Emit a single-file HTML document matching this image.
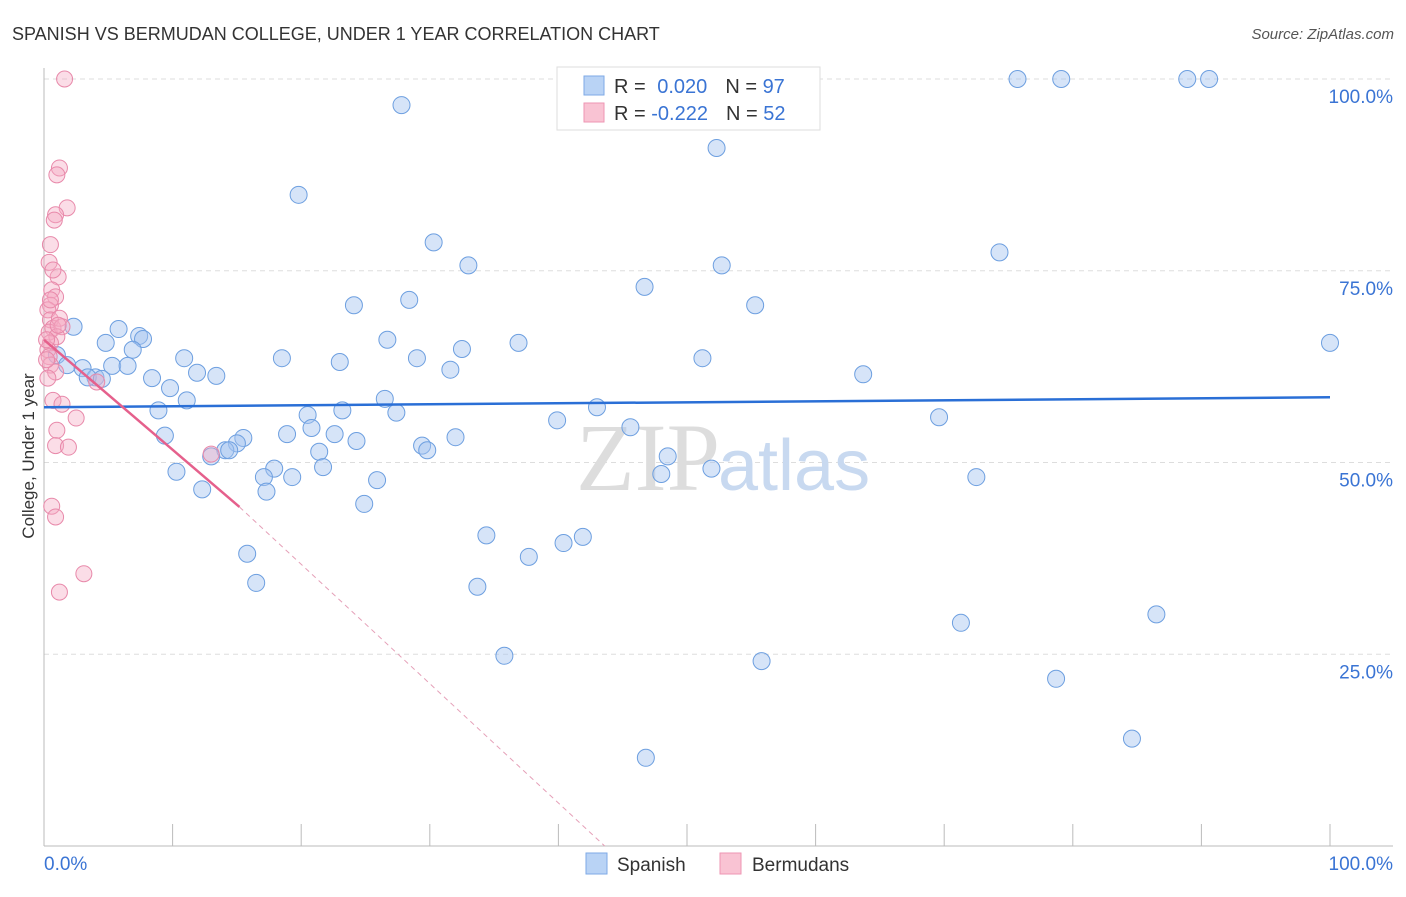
<!DOCTYPE html>
<html><head><meta charset="utf-8"><style>
body{margin:0;background:#fff;font-family:"Liberation Sans",sans-serif;}
svg text{font-family:"Liberation Sans",sans-serif;}
</style></head><body>
<svg width="1406" height="892" viewBox="0 0 1406 892">
<text x="12" y="40" font-size="18" fill="#333">SPANISH VS BERMUDAN COLLEGE, UNDER 1 YEAR CORRELATION CHART</text>
<text x="1394" y="39" font-size="15" fill="#555" font-style="italic" text-anchor="end">Source: ZipAtlas.com</text>
<g id="grid"></g>
<text x="720" y="490" font-size="96" fill="#ddd" text-anchor="end" font-family="Liberation Serif" style="font-family:'Liberation Serif',serif">ZIP</text>
<text x="718" y="490" font-size="72" fill="#c8d9f0">atlas</text>
<g id="axes"></g>
<g id="pts"></g>
<g id="trend"></g>
<text x="34" y="456" font-size="17" fill="#333" text-anchor="middle" transform="rotate(-90 34 456)">College, Under 1 year</text>
<g>
<rect x="557" y="67" width="263" height="63" fill="#fff" stroke="#ddd"/>
<rect x="584" y="76" width="20" height="19" fill="#b9d3f5" stroke="#7eaae6"/>
<rect x="584" y="103" width="20" height="19" fill="#f9c3d3" stroke="#ee96b3"/>
<text x="614" y="93" font-size="20" fill="#333">R = <tspan fill="#3a74d4" dx="6">0.020</tspan><tspan fill="#333" dx="18">N = </tspan><tspan fill="#3a74d4">97</tspan></text>
<text x="614" y="120" font-size="20" fill="#333">R = <tspan fill="#3a74d4">-0.222</tspan><tspan fill="#333" dx="18">N = </tspan><tspan fill="#3a74d4">52</tspan></text>
</g>
<g>
<rect x="586" y="853" width="21" height="21" fill="#b9d3f5" stroke="#7eaae6"/>
<text x="617" y="871" font-size="19" fill="#333">Spanish</text>
<rect x="720" y="853" width="21" height="21" fill="#f9c3d3" stroke="#ee96b3"/>
<text x="752" y="871" font-size="19" fill="#333">Bermudans</text>
</g>
</svg>
<script>
const spanX=[75.7,79.1,88.9,90.6,27.8,52.3,19.8,30.3,33.0,52.7,74.3,46.7,28.4,24.1,55.3,2.3,5.8,7.4,7.7,4.8,6.9,26.7,36.9,32.5,100,1.0,10.9,18.5,23.0,29.0,51.2,1.8,3.0,5.3,6.5,11.9,13.4,31.6,63.7,4.0,3.4,8.4,9.8,11.1,26.5,8.9,20.5,23.2,27.4,43.0,39.9,69.6,45.6,20.8,18.9,22.6,15.5,15.0,24.3,9.4,32.0,29.4,29.8,14.1,14.4,13.0,21.4,48.5,10.3,21.7,17.9,17.1,19.3,48.0,51.9,72.5,25.9,17.3,12.3,24.9,15.8,34.4,37.7,40.4,41.9,16.5,33.7,86.5,71.3,35.8,55.8,78.7,84.6,46.8,4.5];
const spanY=[100,100,100,100,96.6,91.0,84.9,78.7,75.7,75.7,77.4,72.9,71.2,70.5,70.5,67.7,67.4,66.5,66.1,65.6,64.7,66.0,65.6,64.8,65.6,64.0,63.6,63.6,63.1,63.6,63.6,62.7,62.3,62.6,62.6,61.7,61.3,62.1,61.5,61.1,61.1,61.0,59.7,58.1,58.3,56.8,56.2,56.8,56.5,57.2,55.5,55.9,54.6,54.5,53.7,53.7,53.2,52.5,52.8,53.5,53.3,52.2,51.6,51.6,51.6,50.8,51.4,50.8,48.8,49.4,49.2,48.1,48.1,48.5,49.2,48.1,47.7,46.2,46.5,44.6,38.1,40.5,37.7,39.5,40.3,34.3,33.8,30.2,29.1,24.8,24.1,21.8,14.0,11.5,60.9];
const bermX=[1.6,1.2,1.0,1.8,0.9,0.8,0.5,0.4,1.1,0.7,0.6,0.9,0.5,0.3,0.5,0.7,0.4,1.2,1.4,1.0,0.5,0.3,0.4,0.5,0.9,0.3,4.1,0.7,1.4,2.5,1.0,0.9,1.9,13.0,0.6,0.9,3.1,1.2,0.2,0.2,1.1,0.5];
const bermY=[100,88.4,87.5,83.2,82.3,81.6,78.4,76.1,74.2,75.1,72.5,71.6,70.5,69.9,68.6,67.5,67.0,68.8,67.7,66.4,65.6,64.7,63.8,62.7,61.8,61.0,60.5,58.1,57.6,55.8,54.2,52.2,52.0,51.1,44.3,42.9,35.5,33.1,63.4,66.0,67.9,71.2];
const yTicks=[100,75,50,25];
const yTickLabels=["100.0%","75.0%","50.0%","25.0%"];
const xTicks=[10,20,30,40,50,60,70,80,90,100];
const spanTrend=[57.2,58.5];
const bermTrend=[66.0,44.2,15.2,43.6];
const X=v=>44+v*12.86, Y=v=>846-v*7.67;
const NS="http://www.w3.org/2000/svg";
function mk(p,t,a){const e=document.createElementNS(NS,t);for(const k in a)e.setAttribute(k,a[k]);p.appendChild(e);return e;}
const grid=document.getElementById('grid'),axes=document.getElementById('axes'),pts=document.getElementById('pts'),tr=document.getElementById('trend');
yTicks.forEach((t,i)=>{
 const l=mk(grid,'line',{x1:44,x2:1393,y1:Y(t),y2:Y(t),stroke:'#ddd','stroke-dasharray':'5,4'});
 
 
 const tx=mk(grid,'text',{x:1393,y:Y(t)+24,'font-size':19,fill:'#3a74d4','text-anchor':'end'});
 tx.textContent=yTickLabels[i];
 
 
});
let a=mk(axes,'line',{x1:44,x2:44,y1:68,y2:846,stroke:'#bbb'});


a=mk(axes,'line',{x1:44,x2:1393,y1:846,y2:846,stroke:'#bbb'});


xTicks.forEach(t=>{
 const l=mk(axes,'line',{x1:X(t),x2:X(t),y1:824,y2:846,stroke:'#bbb'});
 
 
});
let t0=mk(axes,'text',{x:44,y:870,'font-size':19,fill:'#3a74d4'});t0.textContent='0.0%';


let t1=mk(axes,'text',{x:1393,y:870,'font-size':19,fill:'#3a74d4','text-anchor':'end'});t1.textContent='100.0%';


spanX.forEach((v,i)=>{
 const c=mk(pts,'circle',{cx:X(v),cy:Y(spanY[i]),r:8.5,fill:'rgba(164,196,240,0.45)',stroke:'#6d9fe0','stroke-width':1});
 
 
});
bermX.forEach((v,i)=>{
 const c=mk(pts,'circle',{cx:X(v),cy:Y(bermY[i]),r:8,fill:'rgba(244,170,195,0.4)',stroke:'#e889aa','stroke-width':1});
 
 
});
let l1=mk(tr,'line',{x1:X(0),y1:Y(spanTrend[0]),x2:X(100),y2:Y(spanTrend[1]),stroke:'#2a6fd6','stroke-width':2.5});


let l2=mk(tr,'line',{x1:X(0),y1:Y(bermTrend[0]),x2:X(bermTrend[2]),y2:Y(bermTrend[1]),stroke:'#e5608c','stroke-width':2.5});


let l3=mk(tr,'line',{x1:X(bermTrend[2]),y1:Y(bermTrend[1]),x2:X(bermTrend[3]),y2:Y(0),stroke:'#e5a0b8','stroke-width':1,'stroke-dasharray':'5,4'});


</script>
</body></html>
